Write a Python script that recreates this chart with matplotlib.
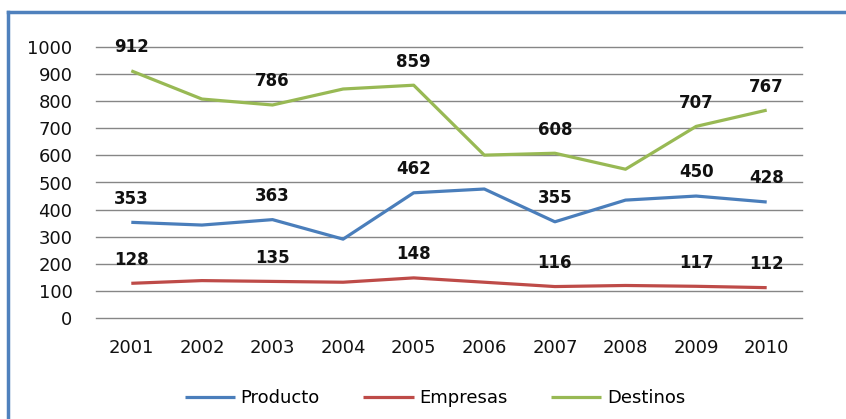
import matplotlib.pyplot as plt
from matplotlib.lines import Line2D

years = ['2001', '2002', '2003', '2004', '2005', '2006', '2007', '2008', '2009', '2010']
producto = [353, 343, 363, 291, 462, 476, 355, 435, 450, 428]
empresas = [128, 138, 135, 132, 148, 132, 116, 120, 117, 112]
destinos = [912, 808, 786, 845, 859, 601, 608, 549, 707, 767]

# which points carry a value label
labelled = [0, 2, 4, 6, 8, 9]

colors = ['#4A7EBB', '#BE4B48', '#98B954']
names = ['Producto', 'Empresas', 'Destinos']

fig = plt.figure(figsize=(8.46, 4.19), dpi=100)
ax = fig.add_axes([96/846, 1-318/419, 706/846, 271/419])

x = range(len(years))
for series, c, n in zip([producto, empresas, destinos], colors, names):
    ax.plot(x, series, color=c, lw=2.3, label=n, solid_capstyle='butt')
    for i in labelled:
        ax.annotate(str(series[i]), (i, series[i]), xytext=(0, 17),
                    textcoords='offset points', ha='center', va='center',
                    fontsize=12, fontweight='bold', color='#111111')

ax.set_ylim(0, 1000)
ax.set_xlim(-0.5, len(years) - 0.5)
ax.set_yticks(range(0, 1001, 100))
ax.set_xticks(list(x))
ax.set_xticklabels(years)
ax.grid(axis='y', color='#868686', lw=1)
for gl in ax.get_ygridlines():
    gl.set_clip_on(False)
ax.set_axisbelow(True)
for s in ax.spines.values():
    s.set_visible(False)
ax.tick_params(length=0, labelsize=13, colors='#111111')
ax.tick_params(axis='y', pad=17)
ax.tick_params(axis='x', pad=15)

fig.legend(loc='center', bbox_to_anchor=(0.514, 1-398/419), ncol=3, frameon=False,
           fontsize=13, handlelength=2.8, columnspacing=2.4, handletextpad=0.3)

# blue frame (left and top edges)
fc = '#4F81BD'
fig.add_artist(Line2D([7.5/846, 7.5/846], [0, 1-12/419], transform=fig.transFigure, color=fc, lw=2.5))
fig.add_artist(Line2D([7.5/846, 1], [1-12/419, 1-12/419], transform=fig.transFigure, color=fc, lw=2.5))

fig.savefig('out.png', dpi=100)
